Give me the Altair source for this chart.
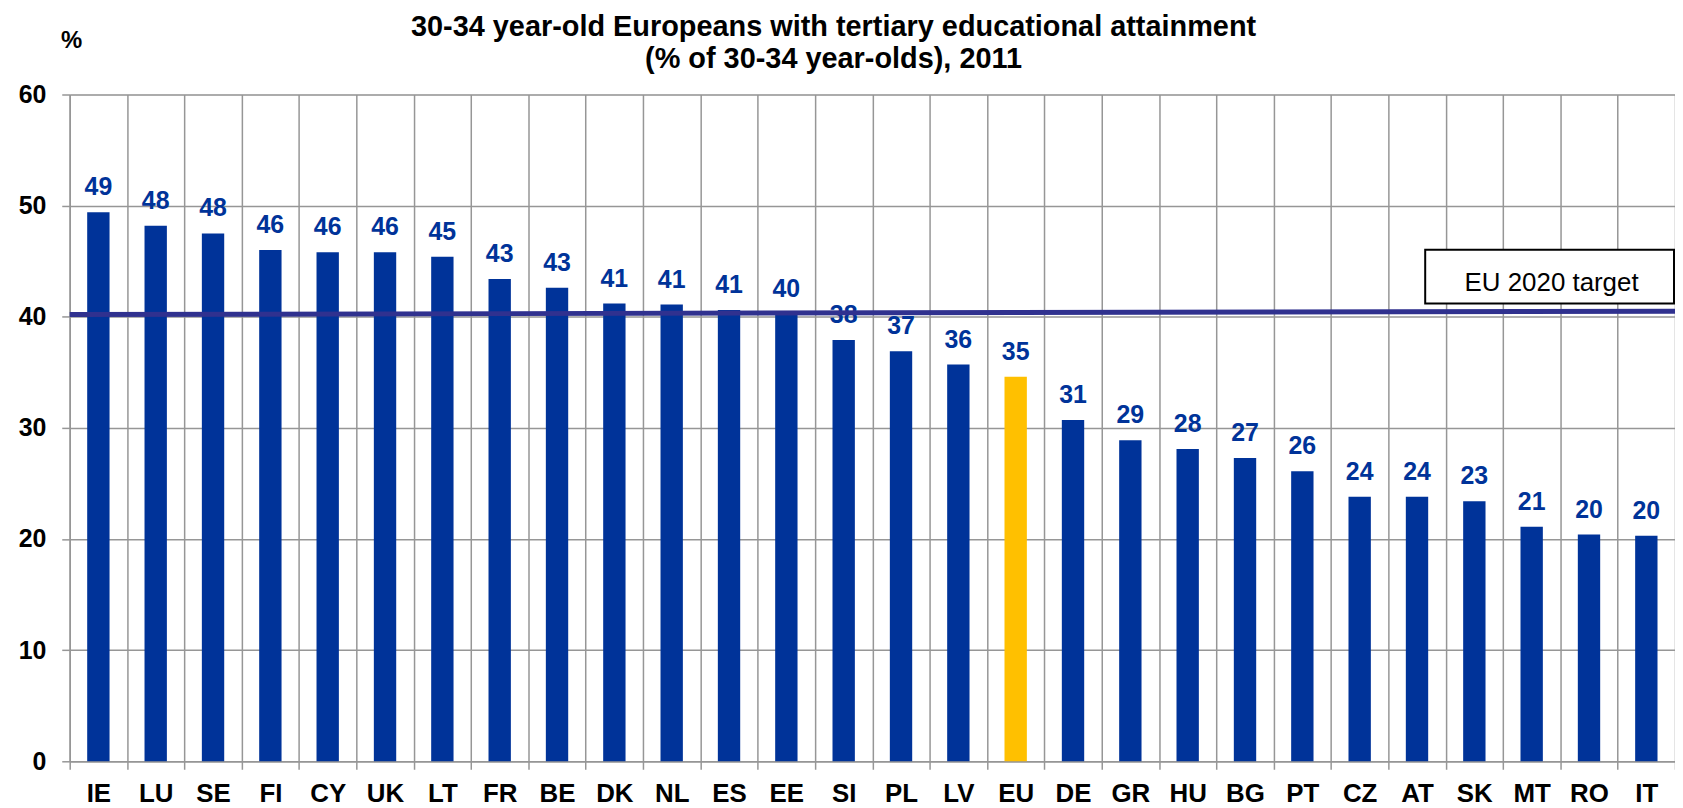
import altair as alt
import pandas as pd

countries = ["IE", "LU", "SE", "FI", "CY", "UK", "LT", "FR", "BE", "DK", "NL", "ES", "EE", "SI",
             "PL", "LV", "EU", "DE", "GR", "HU", "BG", "PT", "CZ", "AT", "SK", "MT", "RO", "IT"]
values = [49.4, 48.2, 47.5, 46.0, 45.8, 45.8, 45.4, 43.4, 42.6, 41.2, 41.1, 40.6, 40.3, 37.9,
          36.9, 35.7, 34.6, 30.7, 28.9, 28.1, 27.3, 26.1, 23.8, 23.8, 23.4, 21.1, 20.4, 20.3]
y_ticks = [0, 10, 20, 30, 40, 50, 60]
target_start = [40.2]
target_end = [40.5]
target_label = ["EU 2020 target"]
title_lines = ["30-34 year-old Europeans with tertiary educational attainment",
               "(% of 30-34 year-olds), 2011"]

W = 1613
H = 670
FONT = "Liberation Sans"
GRID = "#969696"
BLUE = "#003399"

df = pd.DataFrame({"country": countries, "value": values})
tdf = pd.DataFrame({"y0": target_start, "y1": target_end, "label": target_label})

x_enc = alt.X("country:N", sort=None,
              scale=alt.Scale(paddingInner=0, paddingOuter=0),
              axis=alt.Axis(title=None, labelAngle=0, tickBand="extent", grid=True,
                            gridColor=GRID, gridWidth=1.5, domainColor=GRID, domainWidth=1.5,
                            tickColor=GRID, tickWidth=1.5, tickSize=8,
                            labelFont=FONT, labelFontSize=26, labelFontWeight="bold",
                            labelColor="black", labelPadding=11))
y_enc = alt.Y("value:Q", scale=alt.Scale(domain=[0, 60], nice=False),
              axis=alt.Axis(values=y_ticks, grid=True, gridColor=GRID, gridWidth=1.5,
                            domainColor=GRID, domainWidth=1.5, tickColor=GRID, tickWidth=1.5,
                            tickSize=8, labelFont=FONT, labelFontSize=25, labelFontWeight="bold",
                            labelColor="black", labelPadding=16,
                            title="%", titleAngle=0, titleX=1.5, titleY=-54,
                            titleAlign="center", titleBaseline="middle",
                            titleFont=FONT, titleFontSize=24, titleFontWeight="bold",
                            titleColor="black"))

base = alt.Chart(df)
bars = base.mark_bar(width=alt.RelativeBandSize(0.39)).encode(
    x=x_enc, y=y_enc,
    color=alt.condition(alt.datum.country == "EU", alt.value("#FFC000"), alt.value(BLUE)),
)
labels = base.mark_text(font=FONT, fontSize=25, fontWeight="bold", color=BLUE,
                        baseline="alphabetic", dy=-17).encode(
    x=alt.X("country:N", sort=None), y="value:Q",
    text=alt.Text("value:Q", format=".0f"),
)
target = alt.Chart(tdf).mark_rule(color="#30318F", strokeWidth=5).encode(
    x=alt.value(0), x2=alt.value(W), y="y0:Q", y2="y1:Q"
)
box = alt.Chart(tdf).mark_rect(fill="white", stroke="black", strokeWidth=2).encode(
    x=alt.value(W - 251), x2=alt.value(W - 1), y=alt.value(156), y2=alt.value(210)
)
box_text = alt.Chart(tdf).mark_text(font=FONT, fontSize=26, color="black",
                                    baseline="alphabetic", align="center").encode(
    x=alt.value(W - 124), y=alt.value(197), text="label:N"
)

chart = alt.layer(bars, labels, target, box, box_text).properties(
    width=W, height=H,
    title=alt.TitleParams(text=title_lines, anchor="middle", frame="group", dx=-39,
                          offset=-45, font=FONT, fontSize=29, fontWeight="bold",
                          lineHeight=32, color="black"),
    autosize=alt.AutoSizeParams(type="none"),
    padding={"left": 62, "top": 85, "right": 0, "bottom": 44},
).configure_view(stroke=None).configure(background="white")

chart.save("out.html", embed_options={"renderer": "svg", "actions": False})
